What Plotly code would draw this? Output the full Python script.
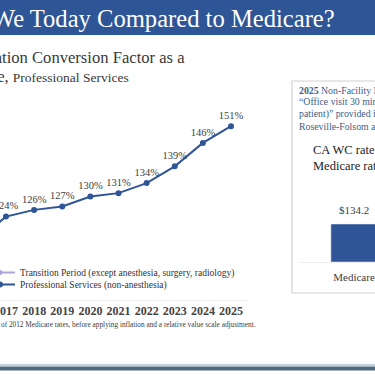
import plotly.graph_objects as go

W, H = 375, 375

# ---- data ----
years = [2016, 2017, 2018, 2019, 2020, 2021, 2022, 2023, 2024, 2025]
prof_pct = [117, 124, 126, 127, 130, 131, 134, 139, 146, 151]
trans_years = [2014, 2015, 2016]
trans_pct = [104, 110, 117]
bar_cats = ["Medicare", "CA WC rate"]
bar_vals = [134.2, 202.6]

SERIF = "Liberation Serif, Times New Roman, serif"
BLUE = "#2F5597"


def px(x):
    return x / W


def py(y):
    return 1 - y / H


fig = go.Figure()

fig.add_trace(go.Scatter(
    x=trans_years, y=trans_pct, name="Transition Period (except anesthesia, surgery, radiology)",
    mode="lines+markers", line=dict(color="#A9A7DA", width=2), marker=dict(size=5, color="#A9A7DA"),
    xaxis="x", yaxis="y", legend="legend"))

fig.add_trace(go.Scatter(
    x=years, y=prof_pct, name="Professional Services (non-anesthesia)",
    mode="lines+markers+text", line=dict(color=BLUE, width=2), marker=dict(size=6, color=BLUE),
    text=[f"{v}%" for v in prof_pct], textposition="top center",
    textfont=dict(family=SERIF, size=10.5, color="#404040"), cliponaxis=False,
    xaxis="x", yaxis="y", legend="legend2"))

fig.add_trace(go.Bar(
    x=bar_cats, y=bar_vals, marker=dict(color=BLUE), width=0.6, showlegend=False,
    xaxis="x2", yaxis="y2"))

# axis geometry
ppy = 28.125  # px per year
x_w = 248
x0 = 2017 - 6 / ppy
x1 = x0 + x_w / ppy
ppp = 90 / 27.0  # px per percent
y_bot, y_top = 300, 100
v0 = 124 - (y_bot - 217) / ppp
v1 = 151 + (126 - y_top) / ppp

unit = 77.0
bx0, bx1 = 300, 375
r0 = 0 - (354 - bx0) / unit
r1 = r0 + (bx1 - bx0) / unit
bar_bot, bar_dtop = 262, 194
ymax = 134.2 * (bar_bot - bar_dtop) / (bar_bot - 224)

shapes = [
    dict(type="rect", xref="paper", yref="paper", x0=px(-5), x1=px(380), y0=py(35), y1=py(-5),
         fillcolor="#2E5596", line=dict(width=0), layer="below"),
    dict(type="rect", xref="paper", yref="paper", x0=px(292), x1=px(390), y0=py(293), y1=py(81),
         fillcolor="rgba(0,0,0,0)", line=dict(color="#D2D2D2", width=1.2), layer="below"),
    dict(type="rect", xref="paper", yref="paper", x0=px(-5), x1=px(380), y0=py(366), y1=py(364),
         fillcolor="#BFD0DE", line=dict(width=0)),
    dict(type="rect", xref="paper", yref="paper", x0=px(-5), x1=px(380), y0=py(370.5), y1=py(366.5),
         fillcolor="#4E6781", line=dict(width=0)),
]

ann = []


def note(text, x, y, size, color="#333333", anchor="left", family=SERIF):
    ann.append(dict(text=text, x=px(x), y=py(y), xref="paper", yref="paper", showarrow=False,
                    xanchor=anchor, yanchor="middle", align=anchor,
                    font=dict(family=family, size=size, color=color)))


note("Where Are We Today Compared to Medicare?", 337, 18, 24.6, color="#FFFFFF", anchor="right")
note("Compensation Conversion Factor as a", 187, 57, 16.6, color="#3A3A3A", anchor="right")
note("Percentage of Medicare, <span style='font-size:13.5px'>Professional Services</span>", 131, 76,
     16.6, color="#3A3A3A", anchor="right")
note("of 2012 Medicare rates, before applying inflation and a relative value scale adjustment.",
     -1, 324, 7.3, color="#404040")

BOXBLUE = "#3E5C86"
note("<b>2025</b> Non-Facility Medicare rate", 297, 90, 9.8, color=BOXBLUE)
note("\u201cOffice visit 30 minutes (new", 297, 102, 9.8, color=BOXBLUE)
note("patient)\u201d provided in the", 297, 114, 9.8, color=BOXBLUE)
note("Roseville-Folsom area", 297, 126, 9.8, color=BOXBLUE)
note("CA WC rate vs.", 311, 150, 12.5, color="#222222")
note("Medicare rate", 311, 166, 12.5, color="#222222")

# value labels above the bars, placed at the bars' own data coordinates
for c, v in zip(bar_cats, bar_vals):
    ann.append(dict(text=f"${v}", x=c, y=v, xref="x2", yref="y2", showarrow=False,
                    xanchor="center", yanchor="bottom", yshift=6,
                    font=dict(family=SERIF, size=11, color="#404040")))

leg_common = dict(xanchor="left", yanchor="top", bgcolor="rgba(0,0,0,0)",
                  font=dict(family=SERIF, size=9.5, color="#333333"), itemwidth=30)

fig.update_layout(
    width=W, height=H, autosize=False,
    margin=dict(l=0, r=0, t=0, b=0, pad=0, autoexpand=False),
    paper_bgcolor="white", plot_bgcolor="rgba(0,0,0,0)",
    font=dict(family=SERIF, color="#333333"),
    shapes=shapes, annotations=ann, hovermode=False,
    xaxis=dict(domain=[0, px(x_w)], range=[x0, x1], tickmode="array", tickvals=years[1:],
               ticktext=[f"<b>{y}</b>" for y in years[1:]], showgrid=False, zeroline=False,
               showline=True, linecolor="#EEEEEE", linewidth=1, ticks="",
               ticklabeloverflow="allow",
               tickfont=dict(family=SERIF, size=12, color="#444444"), anchor="y", automargin=False),
    yaxis=dict(domain=[py(y_bot), py(y_top)], range=[v0, v1], visible=False, anchor="x"),
    xaxis2=dict(domain=[px(bx0), px(bx1)], range=[r0, r1], showgrid=False, zeroline=False,
                showline=True, linecolor="#EEEEEE", ticks="", anchor="y2", automargin=False,
                ticklabeloverflow="allow", ticklabelstandoff=5,
                tickfont=dict(family=SERIF, size=11, color="#404040")),
    yaxis2=dict(domain=[py(bar_bot), py(bar_dtop)], range=[0, ymax], visible=False, anchor="x2"),
    showlegend=True,
    legend=dict(x=px(-20), y=py(258), **leg_common),
    legend2=dict(x=px(-20), y=py(270), **leg_common),
)

fig.write_html("out.html", config={"displayModeBar": False, "staticPlot": True},
               post_script="document.body.style.margin='0px';document.body.style.overflow='hidden';")
